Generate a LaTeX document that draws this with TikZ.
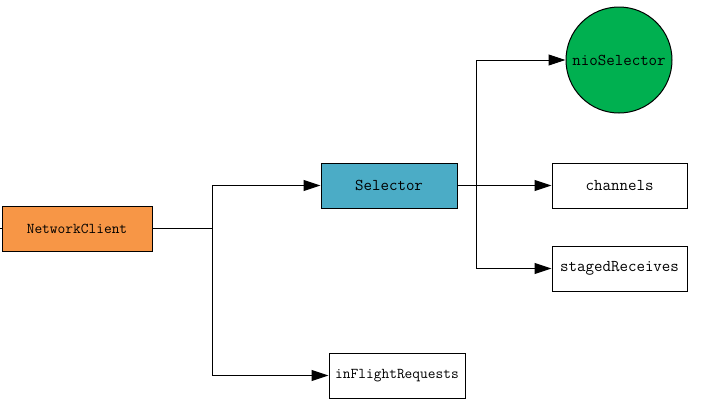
\documentclass[tikz,border=0pt]{standalone}
\usetikzlibrary{arrows.meta}
\definecolor{ncorange}{RGB}{247,150,70}
\definecolor{selblue}{RGB}{75,172,198}
\definecolor{niogreen}{RGB}{0,176,80}

\begin{document}
\begin{tikzpicture}[x=1pt,y=-1pt,line width=1pt,
  box/.style={draw,rectangle,inner sep=0pt,minimum height=45pt,font=\ttfamily\fontsize{16.5}{18}\selectfont},
  arr/.style={-{Triangle[length=17pt,width=11pt]}}]
\useasboundingbox (0,0) rectangle (709,405);
\node[box,fill=ncorange,minimum width=150pt,font=\ttfamily\fontsize{15}{17}\selectfont] (nc) at (77,228.5) {NetworkClient};
\node[box,fill=selblue,minimum width=136pt] (sel) at (389,185.5) {Selector};
\node[draw,circle,fill=niogreen,minimum size=106pt,inner sep=0pt,font=\ttfamily\fontsize{16.5}{18}\selectfont] (nio) at (619,60) {nioSelector};
\node[box,minimum width=135pt] (ch) at (619.5,185.5) {channels};
\node[box,minimum width=135pt] (sr) at (619.5,268.5) {stagedReceives};
\node[box,minimum width=136pt,font=\ttfamily\fontsize{15}{17}\selectfont] (ifr) at (397,375.5) {inFlightRequests};
\coordinate (in) at (0,228.5);
\coordinate (j1) at (212,228.5);
\coordinate (j2) at (476,185.5);
\draw (in) -- (nc.west);
\draw (nc.east) -- (j1);
\draw[arr] (j1) |- (sel.west);
\draw[arr] (j1) |- (ifr.west);
\draw (sel.east) -- (j2);
\draw[arr] (j2) |- (nio.west);
\draw[arr] (j2) -- (ch.west);
\draw[arr] (j2) |- (sr.west);
\end{tikzpicture}
\end{document}
